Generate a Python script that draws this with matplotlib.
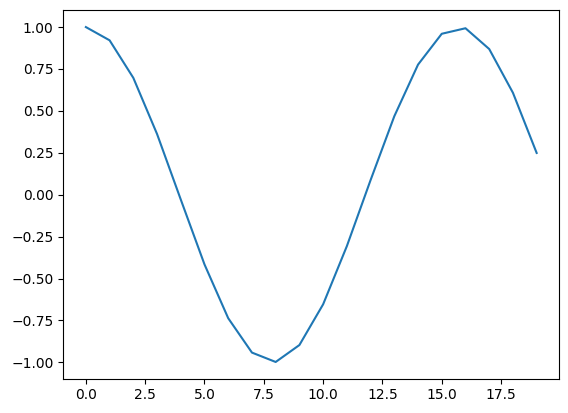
import matplotlib
matplotlib.use("Agg")
import matplotlib.pyplot as plt

x = list(range(20))
y = [1.000, 0.921, 0.697, 0.362, -0.029, -0.416, -0.737, -0.942, -0.998, -0.897,
     -0.654, -0.307, 0.087, 0.468, 0.776, 0.960, 0.993, 0.869, 0.608, 0.249]

fig = plt.figure(figsize=(5.68, 4.13), dpi=100)
ax = fig.add_axes([0.1115, 0.083, 0.873, 0.892])
ax.plot(x, y, color="#1f77b4")
fig.savefig("out.png", dpi=100)
